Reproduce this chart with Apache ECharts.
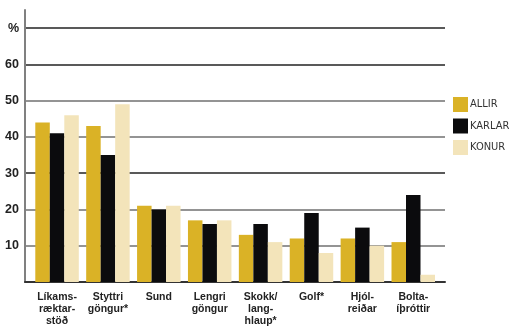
<!DOCTYPE html>
<html>
<head>
<meta charset="utf-8">
<script src="https://cdn.jsdelivr.net/npm/echarts@6/dist/echarts.min.js"></script>
<style>
  html, body { margin: 0; padding: 0; background: #fff; }
  #chart { width: 510px; height: 327px; }
</style>
</head>
<body>
<div id="chart"></div>
<script>
// Activity categories and share (%) by group
const categories = [
  'Líkams-\nræktar-\nstöð',
  'Styttri\ngöngur*',
  'Sund',
  'Lengri\ngöngur',
  'Skokk/\nlang-\nhlaup*',
  'Golf*',
  'Hjól-\nreiðar',
  'Bolta-\níþróttir'
];
const allir  = [44, 43, 21, 17, 13, 12, 12, 11];
const karlar = [41, 35, 20, 16, 16, 19, 15, 24];
const konur  = [46, 49, 21, 17, 11,  8, 10,  2];
const seriesNames = ['ALLIR', 'KARLAR', 'KONUR'];
const yTicks = [0, 10, 20, 30, 40, 50, 60, 70];

const colors = ['#DAB226', '#0B0B0D', '#F3E4BA'];
const font = '"Liberation Sans", Arial, sans-serif';
const narrowFont = '"Liberation Sans Narrow", "DejaVu Sans Condensed", sans-serif';

const chart = echarts.init(document.getElementById('chart'), null, { renderer: 'canvas' });

const barSeries = [allir, karlar, konur].map((vals, i) => ({
  name: seriesNames[i],
  type: 'bar',
  xAxisIndex: 1,
  yAxisIndex: 1,
  data: vals,
  barWidth: 14.5,
  barGap: '0%',
  itemStyle: { color: colors[i] },
  emphasis: { disabled: true },
  z: 3
}));

chart.setOption({
  animation: false,
  color: colors,
  grid: [
    { left: 25, right: 65, top: 10, bottom: 45 },
    { left: 31.6, right: 71.3, top: 10, bottom: 45 }
  ],
  legend: {
    data: seriesNames,
    orient: 'vertical',
    left: 453,
    top: 97,
    padding: 0,
    itemWidth: 15,
    itemHeight: 15,
    itemGap: 6.5,
    icon: 'rect',
    textStyle: { fontFamily: narrowFont, fontSize: 11, color: '#333', padding: [0, 0, 0, -3] }
  },
  xAxis: [
    {
      type: 'category',
      gridIndex: 0,
      data: categories,
      axisLine: { show: true, lineStyle: { color: '#333', width: 2 } },
      axisTick: { show: false },
      axisLabel: { show: false },
      splitLine: { show: false }
    },
    {
      type: 'category',
      gridIndex: 1,
      data: categories,
      axisLine: { show: false },
      axisTick: { show: false },
      axisLabel: {
        show: true,
        interval: 0,
        margin: 9,
        fontFamily: font,
        fontWeight: 'bold',
        fontSize: 10.5,
        lineHeight: 12,
        color: '#222'
      }
    }
  ],
  yAxis: [
    {
      type: 'value',
      gridIndex: 0,
      min: 0,
      max: 75,
      interval: 10,
      axisLine: { show: true, lineStyle: { color: '#808080', width: 2 } },
      axisTick: { show: false },
      axisLabel: {
        showMaxLabel: false,
        margin: 6,
        fontFamily: font,
        fontWeight: 'bold',
        fontSize: 12.5,
        color: '#222',
        formatter: v => {
          if (v === yTicks[0] || yTicks.indexOf(v) < 0) return '';
          return v === yTicks[yTicks.length - 1] ? '%' : String(v);
        }
      },
      splitLine: {
        show: true,
        showMaxLine: false,
        lineStyle: {
          width: 1.5,
          color: ['#555', '#707070', '#707070', '#222', '#707070', '#707070', '#222', '#222', 'rgba(0,0,0,0)']
        }
      }
    },
    {
      type: 'value',
      gridIndex: 1,
      min: 0,
      max: 75,
      show: false,
      splitLine: { show: false }
    }
  ],
  series: barSeries
});
</script>
</body>
</html>
